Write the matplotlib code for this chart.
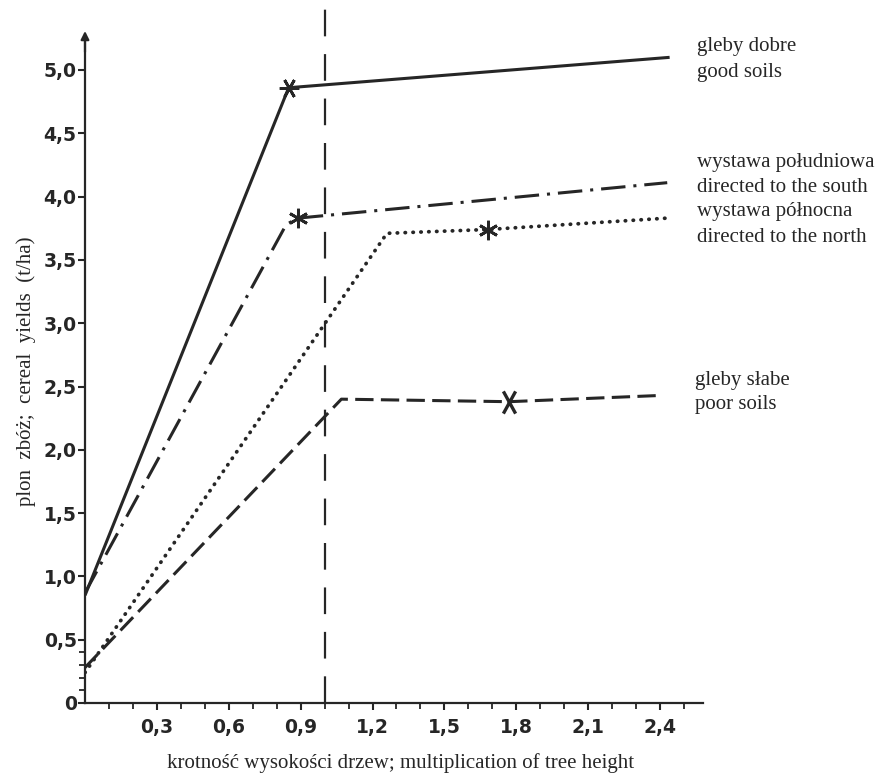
import matplotlib
matplotlib.use("Agg")
import matplotlib.pyplot as plt
from matplotlib.ticker import FixedLocator
from matplotlib.path import Path

# ---- data ----
good_x = [0.0, 0.85, 2.44]
good_y = [0.85, 4.86, 5.10]
good_mark = (0.85, 4.86)

south_x = [0.0, 0.84, 0.89, 2.43]
south_y = [0.87, 3.78, 3.83, 4.11]
south_mark = (0.89, 3.83)

north_x = [0.0, 1.26, 1.68, 2.43]
north_y = [0.24, 3.71, 3.74, 3.83]
north_mark = (1.68, 3.74)

poor_x = [0.0, 1.07, 1.77, 2.41]
poor_y = [0.28, 2.40, 2.38, 2.43]
poor_mark = (1.77, 2.38)

ref_x = 1.0  # vertical reference line

x_ticks = [0.3, 0.6, 0.9, 1.2, 1.5, 1.8, 2.1, 2.4]
x_labels = ["0,3", "0,6", "0,9", "1,2", "1,5", "1,8", "2,1", "2,4"]
y_ticks = [0, 0.5, 1.0, 1.5, 2.0, 2.5, 3.0, 3.5, 4.0, 4.5, 5.0]
y_labels = ["0", "0,5", "1,0", "1,5", "2,0", "2,5", "3,0", "3,5", "4,0", "4,5", "5,0"]

x_label = "krotność wysokości drzew; multiplication of tree height"
y_label = "plon  zbóż;  cereal  yields  (t/ha)"

W, H = 889, 776
fig = plt.figure(figsize=(W / 100, H / 100), dpi=100)
fig.patch.set_facecolor("white")

# axes geometry in pixels: x=0 at px 85, 239.6 px/unit; y=0 at px 703, 126.6 px/unit
x0px, sx = 85, 239.6
y0px, sy = 703, 126.6
xmax = 2.58
ymax = y0px / sy
ax = fig.add_axes([x0px / W, (H - y0px) / H, xmax * sx / W, ymax * sy / H])
ax.set_xlim(0, xmax)
ax.set_ylim(0, ymax)
ax.set_facecolor("none")

ink = "#262626"
lw = 2.2

ax.plot(good_x, good_y, color=ink, lw=lw, solid_capstyle="butt")
ax.plot(south_x, south_y, color=ink, lw=lw, linestyle=(0, (8, 2.6, 1, 2.6)))
ax.plot(north_x, north_y, color=ink, lw=2.7, linestyle=(0, (0.1, 2.0)),
        dash_capstyle="round")
ax.plot(poor_x, poor_y, color=ink, lw=lw, linestyle=(0, (6, 2.4)))

ax.plot([ref_x, ref_x], [0, ymax], color=ink, lw=1.6, linestyle=(0, (12, 8)),
        clip_on=False)

tall_x = Path([(-0.55, -1), (0.55, 1), (0.55, -1), (-0.55, 1)],
              [Path.MOVETO, Path.LINETO, Path.MOVETO, Path.LINETO])
ast = (6, 2, 0)
ax.plot(*good_mark, marker=(6, 2, 90), ms=14, mew=2.0, color=ink, ls="none")
ax.plot(*south_mark, marker=ast, ms=14, mew=2.0, color=ink, ls="none")
ax.plot(*north_mark, marker=ast, ms=14, mew=2.0, color=ink, ls="none")
ax.plot(*poor_mark, marker=tall_x, ms=16, mew=2.4, color=ink, ls="none")

# spines
for s in ("top", "right"):
    ax.spines[s].set_visible(False)
ax.spines["left"].set_bounds(0, 5.27)
ax.spines["left"].set_linewidth(1.6)
ax.spines["bottom"].set_linewidth(1.6)
ax.spines["left"].set_color(ink)
ax.spines["bottom"].set_color(ink)
ax.annotate("", xy=(0, 5.33), xytext=(0, 5.12),
            arrowprops=dict(arrowstyle="-|>", color=ink, lw=1.6,
                            mutation_scale=12), annotation_clip=False)

ax.set_xticks(x_ticks)
ax.set_xticklabels(x_labels)
ax.xaxis.set_minor_locator(FixedLocator([0.1, 0.2, 0.4, 0.5, 0.7, 0.8, 1.0, 1.1,
                                         1.3, 1.4, 1.6, 1.7, 1.9, 2.0, 2.2, 2.3, 2.5]))
ax.set_yticks(y_ticks)
ax.set_yticklabels(y_labels)
ax.yaxis.set_minor_locator(FixedLocator([0.1, 0.2, 0.3, 0.4]))

ax.tick_params(axis="both", which="major", direction="out", length=5, width=1.5,
               color=ink, labelcolor=ink)
ax.tick_params(axis="both", which="minor", direction="out", length=4, width=1.3,
               color=ink)
ax.tick_params(axis="x", pad=6)
ax.tick_params(axis="y", pad=1)
for lab in ax.get_xticklabels() + ax.get_yticklabels():
    lab.set_fontfamily("DejaVu Sans")
    lab.set_fontweight("bold")
    lab.set_fontsize(13.5)

serif = "Liberation Serif"
fs = 15
fig.text(401 / W, 1 - 763 / H, x_label, ha="center", va="center",
         fontfamily=serif, fontsize=fs, color=ink)
fig.text(26 / W, 1 - 371 / H, y_label, ha="center", va="center", rotation=90,
         fontfamily=serif, fontsize=fs, color=ink)

legend_items = [
    (697, 47, "gleby dobre"),
    (697, 72, "good soils"),
    (697, 163, "wystawa południowa"),
    (697, 188, "directed to the south"),
    (697, 212, "wystawa północna"),
    (697, 237, "directed to the north"),
    (695, 380, "gleby słabe"),
    (695, 405, "poor soils"),
]
for px, py, t in legend_items:
    fig.text(px / W, 1 - py / H, t, ha="left", va="center",
             fontfamily=serif, fontsize=fs, color=ink)

fig.savefig("out.png", dpi=100, facecolor="white")
